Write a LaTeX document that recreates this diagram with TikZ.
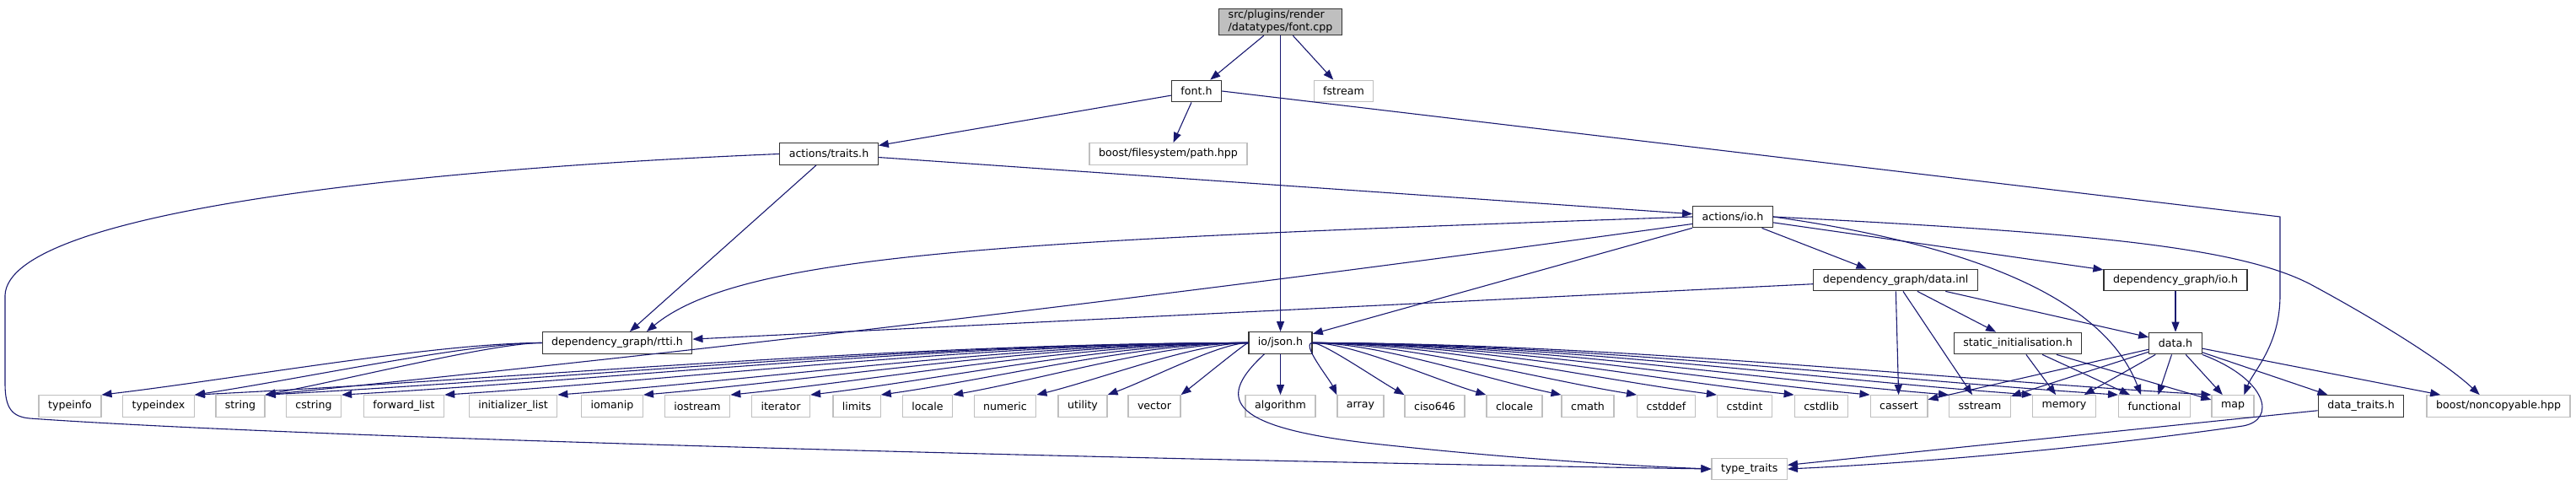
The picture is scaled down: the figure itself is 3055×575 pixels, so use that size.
\documentclass[tikz,border=0pt]{standalone}
\usepackage{fontspec}
\setmainfont{DejaVu Sans}
\usetikzlibrary{arrows.meta,calc}
\definecolor{edgeblue}{HTML}{191970}
\definecolor{rootgrey}{HTML}{BFBFBF}
\definecolor{extgrey}{HTML}{BFBFBF}

\begin{document}
\begin{tikzpicture}[x=1pt,y=1pt,yscale=-1,
  docbox/.style={draw=black!80,line width=1.3pt,fill=white,inner xsep=11pt,inner ysep=2pt,minimum height=25.5pt,font=\fontsize{12.6pt}{15pt}\selectfont},
  extbox/.style={docbox,draw=extgrey},
  rootbox/.style={docbox,fill=rootgrey,align=left},
  inc/.style={draw=edgeblue,line width=1.1pt,-{Triangle[length=12pt,width=9pt]}}]
\useasboundingbox (0,0) rectangle (3055,575);

%Nodes: upper part of the graph
\node[rootbox] (fontcpp) at (1518.5,26) {src/plugins/render\\/datatypes/font.cpp};
\node[docbox] (fonth) at (1419,108) {font.h};
\node[extbox] (fstream) at (1593.5,108) {fstream};
\node[docbox] (traits) at (983,182.5) {actions/traits.h};
\node[extbox] (pathhpp) at (1385.5,182.5) {boost/filesystem/path.hpp};
\node[docbox] (ioh) at (2055,257) {actions/io.h};
\node[docbox] (datainl) at (2248,332) {dependency\_graph/data.inl};
\node[docbox] (dgio) at (2580,332) {dependency\_graph/io.h};
\node[docbox] (rtti) at (732,406.5) {dependency\_graph/rtti.h};
\node[docbox] (json) at (1518.5,406.5) {io/json.h};
\node[docbox] (statinit) at (2393,407) {static\_initialisation.h};
\node[docbox] (datah) at (2580,407) {data.h};

%Nodes: row of headers
\foreach \nm/\xx/\txt in {typeinfo/83/typeinfo,typeindex/188/typeindex,string/285/string,cstring/372/cstring,
  fwdlist/479/forward\_list,initlist/608.5/initializer\_list,iomanip/726/iomanip,iostream/827/iostream,
  iterator/926/iterator,limits/1016/limits,locale/1100/locale,numeric/1192/numeric,utility/1284/utility,
  vector/1369/vector,algorithm/1518.5/algorithm,array/1613.5/array,ciso646/1701.5/ciso646,clocale/1796/clocale,
  cmath/1883/cmath,cstddef/1976/cstddef,cstdint/2069/cstdint,cstdlib/2160/cstdlib,cassert/2252/cassert,
  sstream/2348/sstream,memory/2448/memory,functional/2555/functional,map/2648/map}
  \node[extbox] (\nm) at (\xx,481.5) {\txt};
\node[docbox] (dtraits) at (2800,481.5) {data\_traits.h};
\node[extbox] (noncopyable) at (2963,481.5) {boost/noncopyable.hpp};
\node[extbox] (typetraits) at (2074.7,556) {type\_traits};

%Edges from font.cpp
\draw[inc] (fontcpp) -- (fonth);
\draw[inc] (fontcpp) -- (fstream);
\draw[inc] (fontcpp) -- (json);

%Edges from font.h
\draw[inc] (fonth) -- (traits);
\draw[inc] (fonth) -- (pathhpp);
\draw[inc] (fonth.east) -- (2704,257) -- (2704,350) .. controls (2704,410) and (2672,440) .. (map.45);

%Edges from actions/traits.h
\draw[inc] (traits) -- (ioh);
\draw[inc] (traits) -- (rtti);
\draw[inc] (traits.west) .. controls (500,200) and (10,250) .. (6,350) -- (6,455) .. controls (6,485) and (15,494) .. (35,496) .. controls (400,522) and (1500,548) .. (typetraits.west);

%Edges from actions/io.h
\draw[inc] (ioh.west) .. controls (1200,285) and (880,300) .. (rtti.21);
\draw[inc] (ioh.190) .. controls (1400,350) and (800,420) .. (string.north east);
\draw[inc] (ioh) -- (json);
\draw[inc] (ioh) -- (datainl);
\draw[inc] (ioh) -- (dgio);
\draw[inc] (ioh.east) .. controls (2300,285) and (2490,340) .. (functional.140);
\draw[inc] (ioh.east) .. controls (2450,275) and (2650,290) .. (2740,337) .. controls (2820,380) and (2900,430) .. (noncopyable.149);

%Edges from dependency_graph/data.inl and io.h
\draw[inc] (datainl) -- (rtti);
\draw[inc] (datainl) -- (cassert);
\draw[inc] (datainl) -- (sstream);
\draw[inc] (datainl) -- (statinit);
\draw[inc] (datainl) -- (datah);
\draw[inc] (dgio) -- (datah);

%Edges from static_initialisation.h and data.h
\foreach \t in {memory,functional,map}
  \draw[inc] (statinit) -- (\t);
\foreach \t in {cassert,sstream,memory,functional,map,dtraits,noncopyable}
  \draw[inc] (datah) -- (\t);
\draw[inc] (datah.south east) .. controls (2690,450) and (2700,498) .. (2660,505) .. controls (2450,535) and (2250,550) .. (typetraits.east);
\draw[inc] (dtraits) -- (typetraits);

%Edges from dependency_graph/rtti.h
\foreach \t in {typeinfo,typeindex,string}
  \draw[inc] (rtti) .. controls ($(rtti.center)!0.35!(\t.north east |- rtti.center)$) and ($(\t.north east)!0.3!(rtti.west)$) .. (\t.north east);

%Edges from io/json.h
\foreach \t in {typeindex,string,cstring,fwdlist,initlist,iomanip,iostream,iterator,limits,locale,numeric,utility,vector}
  \draw[inc] (json) .. controls ($(json.center)!0.35!(\t.north east |- json.center)$) and ($(\t.north east)!0.3!(json.west)$) .. (\t.north east);
\draw[inc] (json) -- (algorithm);
\foreach \t in {array,ciso646,clocale,cmath,cstddef,cstdint,cstdlib,cassert,sstream,memory,functional,map}
  \draw[inc] (json) .. controls ($(json.center)!0.35!(\t.north west |- json.center)$) and ($(\t.north west)!0.3!(json.east)$) .. (\t.north west);
\draw[inc] (json.215) .. controls (1445,470) and (1450,505) .. (1620,525) .. controls (1800,545) and (1950,553) .. (typetraits.west);

\end{tikzpicture}
\end{document}
